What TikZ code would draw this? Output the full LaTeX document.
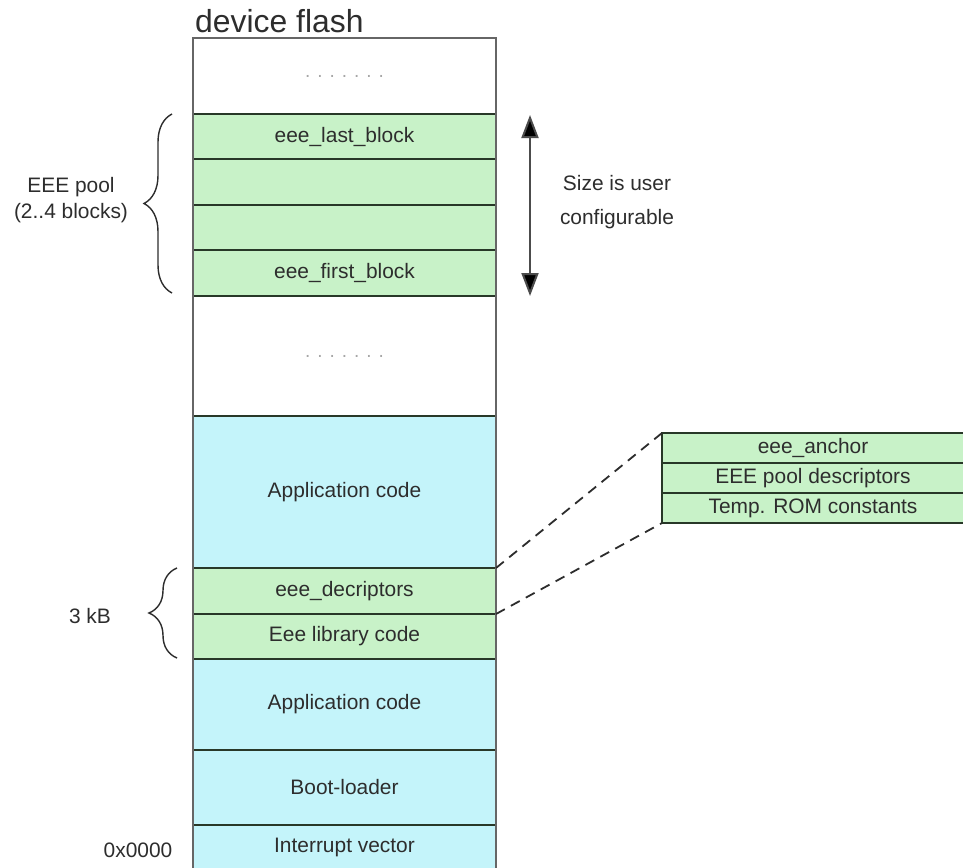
\documentclass[tikz,border=0pt]{standalone}
\usepackage{fontspec}
\setmainfont{Liberation Sans}
\usetikzlibrary{arrows.meta,decorations.pathreplacing}
\definecolor{blockgreen}{RGB}{200,242,200}
\definecolor{blockcyan}{RGB}{196,244,250}
\definecolor{edgecol}{RGB}{40,56,40}
\definecolor{txtcol}{RGB}{45,45,45}
\begin{document}
\begin{tikzpicture}[x=1bp,y=-1bp,
  cell/.style={draw=edgecol,line width=1.8bp,anchor=north west,inner sep=0pt,outer sep=0pt,
    minimum width=303bp,text=txtcol,font=\fontsize{21}{24}\selectfont},
  gcell/.style={cell,fill=blockgreen},
  ccell/.style={cell,fill=blockcyan},
  wcell/.style={cell,fill=white},
  rcell/.style={cell,fill=blockgreen,minimum width=302bp,minimum height=30bp},
  lbl/.style={text=txtcol,font=\fontsize{21}{24}\selectfont,inner sep=0pt,align=center},
  dots/.style={text=gray!70,font=\fontsize{19}{22}\selectfont},
  brace/.style={decorate,decoration={brace,amplitude=28bp},draw=txtcol,line width=1.4bp},
  link/.style={draw=txtcol,line width=1.8bp,dash pattern=on 10bp off 7bp}
]
\useasboundingbox (0,0) rectangle (963,868);
\fill[white] (0,0) rectangle (963,868);

\node[anchor=base west,inner sep=0pt,text=txtcol,font=\fontsize{32}{36}\selectfont] (title) at (195,32) {device flash};

% memory column, top to bottom
\node[wcell,minimum height=76bp] (top) at (193,38) {};
\node[dots] (topdots) at (top.center) {. . . . . . .};
\node[gcell,minimum height=45bp] (last) at (193,114) {eee\_last\_block};
\node[gcell,minimum height=46bp] (b2) at (193,159) {};
\node[gcell,minimum height=45bp] (b3) at (193,205) {};
\node[gcell,minimum height=46bp] (first) at (193,250) {eee\_first\_block};
\node[wcell,minimum height=120bp] (free) at (193,296) {};
\node[dots] (freedots) at (free.center) {. . . . . . .};
\node[ccell,minimum height=152bp] (app1) at (193,416) {Application code};
\node[gcell,minimum height=46bp] (desc) at (193,568) {eee\_decriptors};
\node[gcell,minimum height=45bp] (lib) at (193,614) {Eee library code};
\node[ccell,minimum height=91bp] (app2) at (193,659) {Application code};
\node[ccell,minimum height=75bp] (boot) at (193,750) {Boot-loader};
\node[ccell,minimum height=45bp] (ivec) at (193,825) {Interrupt vector};
\draw[draw=gray!80!black,line width=2.4bp] (top.north west) rectangle (ivec.south east);

% content of the descriptor block
\node[rcell] (anchor) at (662,433) {eee\_anchor};
\node[rcell] (pooldesc) at (662,463) {EEE pool descriptors};
\node[rcell] (romconst) at (662,493) {Temp. ROM constants};

\draw[link] (desc.north east) -- (anchor.north west);
\draw[link] (desc.south east) -- (romconst.south west);

% size arrow
\coordinate (arrtop) at (530,115);
\coordinate (arrbot) at (530,296);
\draw[draw=gray!60!black,line width=2bp,{Triangle[length=23bp,width=17bp,fill=black]}-{Triangle[length=23bp,width=17bp,fill=black]}]
  (arrtop) -- (arrbot);
\node[lbl] (sizetxt) at (617,202) {Size is user\\[10bp]configurable};

% braces
\draw[brace] (172,293) -- (172,114);
\node[lbl] (pooltxt) at (71,200) {EEE pool\\[2bp](2..4 blocks)};
\draw[brace] (177,658) -- (177,568);
\node[lbl] (kbtxt) at (90,616) {3 kB};
\node[lbl] (addr) at (138,850) {0x0000};
\end{tikzpicture}
\end{document}
